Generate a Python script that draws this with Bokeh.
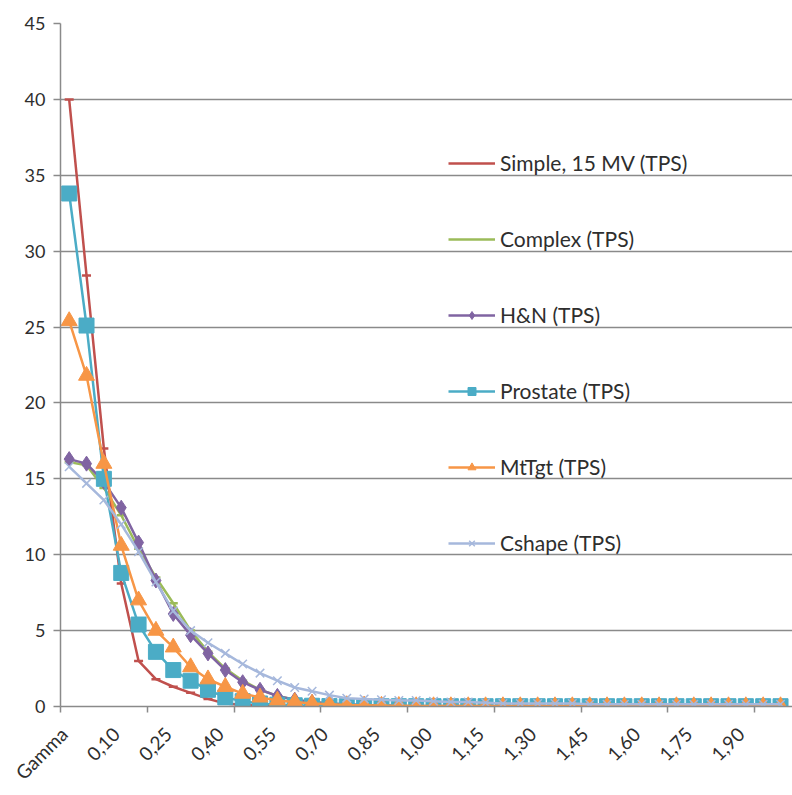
from bokeh.plotting import figure
from bokeh.models import FixedTicker, Legend, LegendItem, Range1d
from bokeh.embed import file_html
from bokeh.resources import INLINE

categories = ["Gamma", "0,00", "0,05", "0,10", "0,15", "0,20", "0,25", "0,30", "0,35", "0,40",
              "0,45", "0,50", "0,55", "0,60", "0,65", "0,70", "0,75", "0,80", "0,85", "0,90",
              "0,95", "1,00", "1,05", "1,10", "1,15", "1,20", "1,25", "1,30", "1,35", "1,40",
              "1,45", "1,50", "1,55", "1,60", "1,65", "1,70", "1,75", "1,80", "1,85", "1,90",
              "1,95", "2,00"]

simple = [40.0, 28.4, 17.0, 8.1, 3.0, 1.8, 1.3, 0.9, 0.5, 0.2, 0.1, 0.05, 0.02, 0.0, 0.0,
          0.0, 0.0, 0.0, 0.0, 0.0, 0.0, 0.0, 0.0, 0.0, 0.0, 0.0, 0.0, 0.0, 0.0, 0.0,
          0.0, 0.0, 0.0, 0.0, 0.0, 0.0, 0.0, 0.0, 0.0, 0.0, 0.0, 0.0]
complex_ = [16.1, 15.9, 14.4, 12.6, 10.4, 8.5, 6.8, 5.0, 3.6, 2.5, 1.7, 1.1, 0.7, 0.45, 0.3,
            0.2, 0.12, 0.08, 0.05, 0.03, 0.02, 0.02, 0.02, 0.02, 0.02, 0.02, 0.02, 0.02, 0.02, 0.02,
            0.02, 0.02, 0.02, 0.02, 0.02, 0.02, 0.02, 0.02, 0.02, 0.02, 0.02, 0.02]
hn = [16.3, 16.0, 14.8, 13.1, 10.8, 8.3, 6.1, 4.7, 3.5, 2.4, 1.6, 1.1, 0.7, 0.45, 0.3,
      0.2, 0.15, 0.1, 0.08, 0.05, 0.03, 0.03, 0.03, 0.03, 0.03, 0.03, 0.03, 0.03, 0.03, 0.03,
      0.03, 0.03, 0.03, 0.03, 0.03, 0.03, 0.03, 0.03, 0.03, 0.03, 0.03, 0.03]
prostate = [33.8, 25.1, 15.0, 8.8, 5.4, 3.6, 2.4, 1.7, 1.1, 0.6, 0.35, 0.2, 0.12, 0.08, 0.05,
            0.03, 0.02, 0.02, 0.02, 0.02, 0.02, 0.02, 0.02, 0.02, 0.02, 0.02, 0.02, 0.02, 0.02, 0.02,
            0.02, 0.02, 0.02, 0.02, 0.02, 0.02, 0.02, 0.02, 0.02, 0.02, 0.02, 0.02]
mttgt = [25.4, 21.8, 16.0, 10.6, 7.0, 5.0, 3.9, 2.6, 1.8, 1.3, 0.85, 0.6, 0.4, 0.3, 0.2,
         0.15, 0.1, 0.08, 0.06, 0.05, 0.03, 0.03, 0.03, 0.03, 0.03, 0.03, 0.03, 0.03, 0.03, 0.03,
         0.03, 0.03, 0.03, 0.03, 0.03, 0.03, 0.03, 0.03, 0.03, 0.03, 0.03, 0.03]
cshape = [15.8, 14.7, 13.6, 12.0, 10.2, 8.2, 6.3, 5.0, 4.2, 3.5, 2.8, 2.2, 1.7, 1.25, 1.0,
          0.75, 0.55, 0.5, 0.45, 0.4, 0.4, 0.35, 0.3, 0.3, 0.25, 0.2, 0.2, 0.2, 0.2, 0.2,
          0.15, 0.15, 0.15, 0.15, 0.15, 0.15, 0.15, 0.15, 0.15, 0.15, 0.15, 0.15]

y_ticks = [0, 5, 10, 15, 20, 25, 30, 35, 40, 45]

x = list(range(len(categories)))

FONT = "Lato"
TEXT = "#2e2e2e"
GRID = "#8a8a8a"

p = figure(width=792, height=795, output_backend="svg", toolbar_location=None,
           x_range=Range1d(-0.5, 41.69), y_range=Range1d(0, 45),
           min_border_left=60, min_border_right=0, min_border_top=23, min_border_bottom=89)
p.outline_line_color = None
p.background_fill_color = "white"

p.xgrid.grid_line_color = None
p.ygrid.grid_line_color = GRID
p.ygrid.grid_line_width = 1.5
p.ygrid.ticker = FixedTicker(ticks=y_ticks)

# x axis: labels every 3rd category, tick marks every 5th category boundary
label_idx = list(range(0, len(categories), 3))
label_pos = [i - 0.3 for i in label_idx]
p.xaxis.ticker = FixedTicker(ticks=label_pos,
                             minor_ticks=[i - 0.5 for i in range(0, len(categories) + 1, 5)])
p.xaxis.major_label_overrides = {pos: categories[i] for pos, i in zip(label_pos, label_idx)}
p.xaxis.major_label_orientation = 0.785398
p.xaxis.major_tick_out = 0
p.xaxis.major_tick_in = 0
p.xaxis.minor_tick_out = 6
p.xaxis.minor_tick_in = 0
p.xaxis.minor_tick_line_color = GRID
p.xaxis.minor_tick_line_width = 1.5
p.xaxis.axis_line_color = GRID
p.xaxis.axis_line_width = 1.5
p.xaxis.major_label_text_font = FONT
p.xaxis.major_label_text_font_size = "19px"
p.xaxis.major_label_text_color = TEXT
p.xaxis.major_label_standoff = 18

# y axis
p.yaxis.ticker = FixedTicker(ticks=y_ticks)
p.yaxis.major_tick_out = 7
p.yaxis.major_tick_in = 0
p.yaxis.minor_tick_line_color = None
p.yaxis.major_tick_line_color = GRID
p.yaxis.major_tick_line_width = 1.5
p.yaxis.axis_line_color = GRID
p.yaxis.axis_line_width = 1.5
p.yaxis.major_label_text_font = FONT
p.yaxis.major_label_text_font_size = "18px"
p.yaxis.major_label_text_color = TEXT
p.yaxis.major_label_standoff = 8

LW = 2.5
items = []

r = p.line(x, simple, line_color="#C0504D", line_width=LW)
p.scatter(x, simple, marker="dash", size=9, line_color="#C0504D", line_width=2.5)
items.append(LegendItem(label="Simple, 15 MV (TPS)", renderers=[r]))

r = p.line(x, complex_, line_color="#9BBB59", line_width=LW)
p.scatter(x, complex_, marker="dash", size=9, line_color="#9BBB59", line_width=2.5)
items.append(LegendItem(label="Complex (TPS)", renderers=[r]))

r = p.line(x, hn, line_color="#8064A2", line_width=LW)
m = p.scatter(x, hn, marker="diamond", size=15, fill_color="#8064A2", line_color="#8064A2")
items.append(LegendItem(label="H&N (TPS)", renderers=[r, m]))

r = p.line(x, prostate, line_color="#4BACC6", line_width=LW)
m = p.scatter(x, prostate, marker="square", size=15, fill_color="#4BACC6", line_color="#4BACC6")
items.append(LegendItem(label="Prostate (TPS)", renderers=[r, m]))

r = p.line(x, mttgt, line_color="#F79646", line_width=LW)
m = p.scatter(x, mttgt, marker="triangle", size=16, fill_color="#F79646", line_color="#F79646")
items.append(LegendItem(label="MtTgt (TPS)", renderers=[r, m]))

r = p.line(x, cshape, line_color="#A6B8DC", line_width=LW)
m = p.scatter(x, cshape, marker="x", size=12, line_color="#A6B8DC", line_width=1.5)
items.append(LegendItem(label="Cshape (TPS)", renderers=[r, m]))

legend = Legend(items=items, location=(388, 151), orientation="vertical",
                glyph_width=47, glyph_height=20, label_height=20, spacing=51,
                padding=0, margin=0, label_standoff=5,
                border_line_color=None, background_fill_alpha=0,
                label_text_font=FONT, label_text_font_size="21px", label_text_color=TEXT)
p.add_layout(legend)

open("out.html", "w").write(file_html(p, INLINE))
